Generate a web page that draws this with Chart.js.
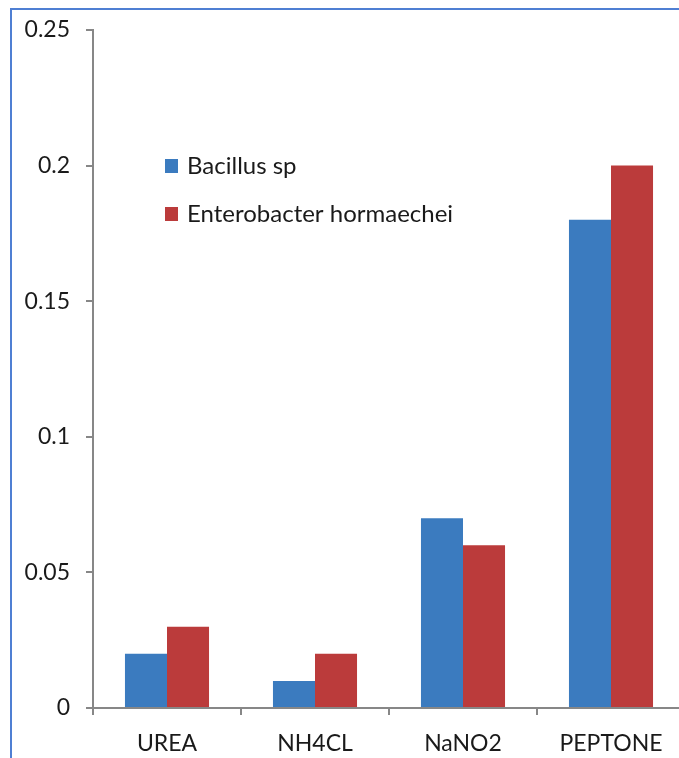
<!DOCTYPE html>
<html>
<head>
<meta charset="utf-8">
<script src="https://cdn.jsdelivr.net/npm/chart.js@4.4.1/dist/chart.umd.min.js"></script>
<style>
  html, body { margin: 0; padding: 0; background: #ffffff; overflow: hidden; }
  #wrap { position: relative; width: 679px; height: 758px; overflow: hidden; }
  #wrap canvas { position: absolute; left: 0; top: 0; }
</style>
</head>
<body>
<div id="wrap"><canvas id="c" width="700" height="758"></canvas></div>
<script>
// Nitrogen sources tested
const categories = ['UREA', 'NH4CL', 'NaNO2', 'PEPTONE'];
// Measured values per organism
const bacillusValues = [0.02, 0.01, 0.07, 0.18];
const enterobacterValues = [0.03, 0.02, 0.06, 0.20];
const seriesNames = ['Bacillus sp', 'Enterobacter hormaechei'];
const yTickLabels = ['0', '0.05', '0.1', '0.15', '0.2', '0.25'];

const FONT = 'Lato, "Open Sans", sans-serif';
const AXIS = '#878787';
const TEXT = '#1a1a1a';

// Outer frame of the figure
const framePlugin = {
  id: 'frame',
  beforeDraw(chart) {
    const ctx = chart.ctx;
    ctx.save();
    ctx.fillStyle = '#ffffff';
    ctx.fillRect(0, 0, chart.width, chart.height);
    ctx.strokeStyle = '#4f7fd3';
    ctx.lineWidth = 2;
    ctx.strokeRect(11, 9, chart.width + 20, chart.height + 20);
    ctx.restore();
  }
};

// Legend drawn inside the plot area
const innerLegend = {
  id: 'innerLegend',
  afterDraw(chart) {
    const ctx = chart.ctx;
    ctx.save();
    ctx.font = '24px ' + FONT;
    ctx.textBaseline = 'middle';
    chart.data.datasets.forEach((ds, i) => {
      const y = 166 + i * 48;
      ctx.fillStyle = ds.backgroundColor;
      ctx.fillRect(165, y - 7, 13, 14);
      ctx.fillStyle = TEXT;
      ctx.fillText(ds.label, 187, y);
    });
    ctx.restore();
  }
};

new Chart(document.getElementById('c'), {
  type: 'bar',
  data: {
    labels: categories,
    datasets: [
      { label: seriesNames[0], data: bacillusValues, backgroundColor: '#3b7bbf' },
      { label: seriesNames[1], data: enterobacterValues, backgroundColor: '#bb3b3b' }
    ]
  },
  options: {
    responsive: false,
    animation: false,
    layout: { padding: { top: 30, right: 15, left: 0, bottom: 0 } },
    plugins: { legend: { display: false }, tooltip: { enabled: false } },
    datasets: { bar: { categoryPercentage: 0.568, barPercentage: 1.0 } },
    scales: {
      x: {
        grid: { drawOnChartArea: false, drawTicks: true, tickLength: 7, color: AXIS, lineWidth: 2 },
        border: { color: AXIS, width: 2 },
        ticks: { color: TEXT, font: { family: FONT, size: 23 }, padding: 15, maxRotation: 0 },
        afterFit(s) { s.height = 50; }
      },
      y: {
        min: 0, max: 0.25,
        grid: { drawOnChartArea: false, drawTicks: true, tickLength: 7, color: AXIS, lineWidth: 2 },
        border: { color: AXIS, width: 2 },
        ticks: {
          stepSize: 0.05, color: TEXT, font: { family: FONT, size: 23 }, padding: 16,
          callback: (v, i) => yTickLabels[i]
        },
        afterFit(s) { s.width = 93; }
      }
    }
  },
  plugins: [framePlugin, innerLegend]
});
</script>
</body>
</html>
